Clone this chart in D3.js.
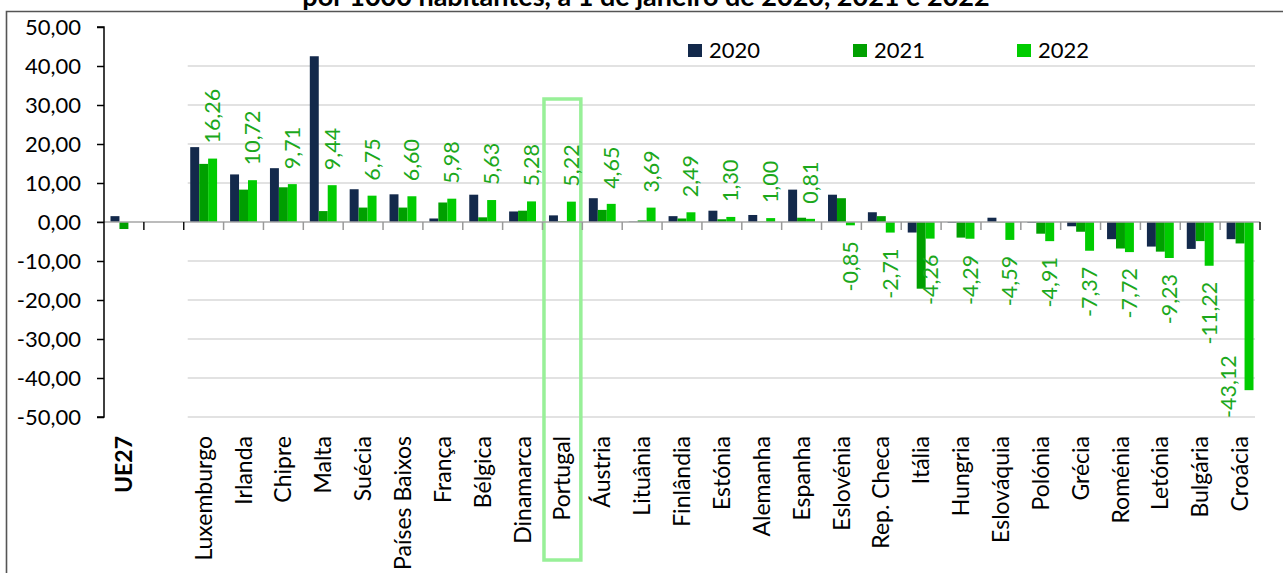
<!DOCTYPE html>
<html>
<head>
<meta charset="utf-8">
<script src="https://cdn.jsdelivr.net/npm/d3@7"></script>
<style>
  body { margin: 0; background: #fff; }
  svg { display: block; font-family: Lato, "Open Sans", sans-serif; }
</style>
</head>
<body>
<svg id="chart" width="1283" height="573"></svg>
<script>
// categories (blank slot after UE27 as in the original)
const countries = ["UE27", " ", "Luxemburgo", "Irlanda", "Chipre", "Malta", "Suécia", "Países Baixos",
  "França", "Bélgica", "Dinamarca", "Portugal", "Áustria", "Lituânia", "Finlândia", "Estónia",
  "Alemanha", "Espanha", "Eslovénia", "Rep. Checa", "Itália", "Hungria", "Eslováquia", "Polónia",
  "Grécia", "Roménia", "Letónia", "Bulgária", "Croácia"];

const years = ["2020", "2021", "2022"];

const values2020 = [1.5, null, 19.2, 12.2, 13.8, 42.5, 8.4, 7.1, 0.9, 7.0, 2.7, 1.7, 6.1, 0.1, 1.5, 2.9,
  1.8, 8.3, 7.0, 2.5, -2.7, -0.2, 1.1, -0.2, -1.1, -4.4, -6.3, -6.9, -4.4];
const values2021 = [-1.8, null, 14.9, 8.3, 8.9, 2.8, 3.7, 3.7, 5.0, 1.2, 2.9, 0.2, 3.1, 0.4, 0.9, 0.7,
  0.1, 1.1, 6.1, 1.5, -17.1, -4.0, -0.1, -3.0, -2.5, -6.8, -7.6, -4.9, -5.5];
const values2022 = [null, null, 16.26, 10.72, 9.71, 9.44, 6.75, 6.60, 5.98, 5.63, 5.28, 5.22, 4.65, 3.69,
  2.49, 1.30, 1.00, 0.81, -0.85, -2.71, -4.26, -4.29, -4.59, -4.91, -7.37, -7.72, -9.23, -11.22, -43.12];

const yTicks = [-50, -40, -30, -20, -10, 0, 10, 20, 30, 40, 50];

const colors = { "2020": "#13294b", "2021": "#00a000", "2022": "#00cc00" };
const labelColor = "#1ca81c";

let svg = d3.select("#chart");

let margin = { left: 104, right: 1260, top: 27, bottom: 417 };

let x = d3.scaleBand().domain(countries).range([margin.left, margin.right]);
let xSub = d3.scaleBand().domain(years).range([6.5, x.bandwidth() - 6.5]);
let y = d3.scaleLinear().domain([-50, 50]).range([margin.bottom, margin.top]);

let locale = d3.formatLocale({ decimal: ",", thousands: ".", grouping: [3], currency: ["", " €"], minus: "-" });
let fmt = locale.format(".2f");

// frame + title (top is cut off in the original)
svg.append("text")
  .attr("x", 646).attr("y", 6)
  .attr("text-anchor", "middle")
  .attr("font-weight", "bold")
  .attr("font-size", "27px")
  .text("por 1000 habitantes, a 1 de janeiro de 2020, 2021 e 2022");

svg.append("path")
  .attr("d", "M6.5,573 V11.5 H1283")
  .attr("fill", "none")
  .attr("stroke", "#555")
  .attr("stroke-width", 1.6);

// gridlines
let gridStart = x("Luxemburgo") + 4;
svg.append("g")
  .selectAll("line")
  .data(yTicks.filter((t) => t !== 0 && t !== 50))
  .enter()
  .append("line")
  .attr("x1", gridStart)
  .attr("x2", margin.right - 5)
  .attr("y1", (d) => y(d))
  .attr("y2", (d) => y(d))
  .attr("stroke", "#d9d9d9")
  .attr("stroke-width", 1.5);

// Portugal highlight
svg.append("rect")
  .attr("x", x("Portugal") + 1.5)
  .attr("width", x.bandwidth() - 3)
  .attr("y", 99)
  .attr("height", 461)
  .attr("fill", "none")
  .attr("stroke", "#98f098")
  .attr("stroke-width", 3.5);

// bars
let series = [
  { year: "2020", values: values2020 },
  { year: "2021", values: values2021 },
  { year: "2022", values: values2022 }
];

series.forEach((s) => {
  svg.append("g")
    .selectAll("rect")
    .data(s.values.map((v, i) => ({ country: countries[i], value: v })).filter((d) => d.value !== null))
    .enter()
    .append("rect")
    .attr("x", (d) => x(d.country) + xSub(s.year))
    .attr("width", xSub.bandwidth())
    .attr("y", (d) => y(Math.max(0, d.value)))
    .attr("height", (d) => Math.abs(y(d.value) - y(0)))
    .attr("fill", colors[s.year]);
});

// zero line and category ticks
svg.append("line")
  .attr("x1", margin.left - 7).attr("x2", margin.right)
  .attr("y1", y(0)).attr("y2", y(0))
  .attr("stroke", "#a6a6a6")
  .attr("stroke-width", 1.5);

let tickPos = countries.map((c) => x(c) + x.bandwidth());
svg.append("g")
  .selectAll("line")
  .data(tickPos)
  .enter()
  .append("line")
  .attr("x1", (d) => d).attr("x2", (d) => d)
  .attr("y1", y(0)).attr("y2", y(0) + 8)
  .attr("stroke", (d, i) => (i < 2 || i === tickPos.length - 1) ? "#111" : "#999")
  .attr("stroke-width", 1.5);

// y axis
let yAxis = d3.axisLeft(y).tickValues(yTicks).tickFormat(fmt).tickSize(7).tickPadding(16);
let yg = svg.append("g")
  .attr("transform", `translate(${margin.left},0)`)
  .call(yAxis);
yg.select(".domain").attr("stroke", "#000").attr("stroke-width", 1.5).attr("d", `M-7,${y(50)}H0V${y(-50)}H-7`);
yg.selectAll(".tick line").attr("stroke", "#000").attr("stroke-width", 1.5);
yg.selectAll(".tick text")
  .attr("font-size", "22px")
  .attr("font-family", "Lato, sans-serif")
  .attr("fill", "#000");

// category labels
svg.append("g")
  .selectAll("text")
  .data(countries.filter((c) => c.trim() !== ""))
  .enter()
  .append("text")
  .attr("transform", (d) => `translate(${x(d) + x.bandwidth() / 2},436) rotate(-90)`)
  .attr("dy", "0.35em")
  .attr("text-anchor", "end")
  .attr("font-size", "23px")
  .attr("font-weight", (d) => d === "UE27" ? "bold" : "normal")
  .attr("fill", "#000")
  .text((d) => d);

// data labels for 2022
let labelData = values2022
  .map((v, i) => ({ country: countries[i], value: v }))
  .filter((d) => d.value !== null);

let labelFits = (d) => d.value >= 0 || y(d.value) + 16 + 58 <= margin.bottom;

svg.append("g")
  .selectAll("text")
  .data(labelData)
  .enter()
  .append("text")
  .attr("transform", (d) => {
    let cx = x(d.country) + xSub("2022") + xSub.bandwidth() / 2;
    let py;
    if (d.value >= 0) {
      py = y(d.value) - 15;
    } else if (labelFits(d)) {
      py = y(d.value) + 16;
    } else {
      // pulled inside the plot area, beside the bar
      py = margin.bottom + 1;
      cx -= 21;
    }
    return `translate(${cx},${py}) rotate(-90)`;
  })
  .attr("dy", "0.35em")
  .attr("text-anchor", (d) => (d.value >= 0 || !labelFits(d)) ? "start" : "end")
  .attr("font-size", "21.5px")
  .attr("fill", labelColor)
  .text((d) => fmt(d.value));

// legend
let legend = svg.append("g");
let legendX = [688, 853, 1017];
years.forEach((yr, i) => {
  legend.append("rect")
    .attr("x", legendX[i]).attr("y", 44)
    .attr("width", 14).attr("height", 13)
    .attr("fill", colors[yr]);
  legend.append("text")
    .attr("x", legendX[i] + 21).attr("y", 58)
    .attr("font-size", "22px")
    .attr("fill", "#000")
    .text(yr);
});
</script>
</body>
</html>
